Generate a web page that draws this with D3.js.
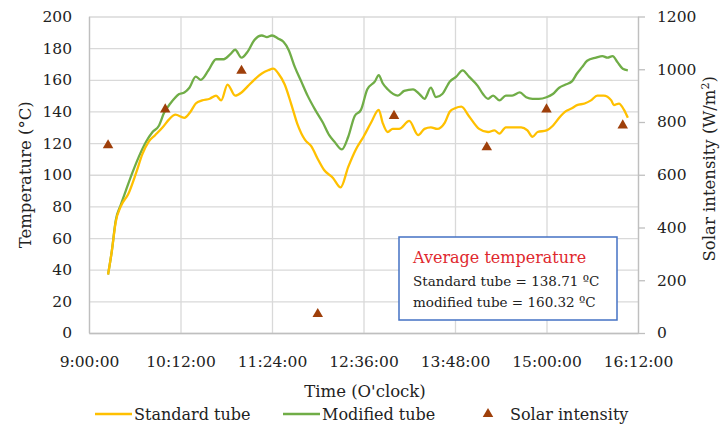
<!DOCTYPE html>
<html lang="en">
<head>
  <meta charset="UTF-8" />
  <title>Temperature and solar intensity</title>
  <script src="https://d3js.org/d3.v7.min.js"></script>
  <style>
    body { margin: 0; background: #fff; }
    text { font-family: 'DejaVu Serif', serif; fill: #222; }
  </style>
</head>
<body>
  <div id="chart"></div>
  <script>
    // data
    const xTickLabels = ["9:00:00", "10:12:00", "11:24:00", "12:36:00", "13:48:00", "15:00:00", "16:12:00"];
    const tempTicks = [0, 20, 40, 60, 80, 100, 120, 140, 160, 180, 200];
    const solarTicks = [0, 200, 400, 600, 800, 1000, 1200];

    const standardTimes = ["9:15", "9:18", "9:21", "9:25", "9:31", "9:37", "9:42", "9:47", "9:52", "9:58",
      "10:03", "10:08", "10:15", "10:20", "10:24", "10:29", "10:35", "10:40", "10:44", "10:49", "10:55",
      "11:00", "11:05", "11:10", "11:16", "11:21", "11:25", "11:29", "11:34", "11:39", "11:44", "11:50", "11:55",
      "12:00", "12:05", "12:12", "12:18", "12:24", "12:30", "12:36", "12:42", "12:48", "12:51", "12:55", "12:59",
      "13:04", "13:12", "13:19", "13:24", "13:29", "13:34", "13:40", "13:44", "13:48", "13:53", "13:59",
      "14:07", "14:14", "14:19", "14:23", "14:28", "14:33", "14:40", "14:45", "14:49", "14:53",
      "15:00", "15:05", "15:10", "15:15", "15:20", "15:24", "15:30", "15:35", "15:40", "15:45", "15:51", "15:53", "15:57",
      "16:01", "16:04"];
    const standardTemps = [37, 52, 70, 80, 88, 101, 113, 121, 125, 130,
      135, 138, 136, 140, 145, 147, 148, 150, 147, 157, 150,
      152, 156, 160, 164, 166, 167, 164, 157, 145, 132, 122, 118,
      110, 103, 98, 92, 105, 116, 124, 133, 141, 133, 127, 129,
      129, 134, 125, 129, 130, 129, 133, 140, 142, 143, 137,
      129, 127, 128, 126, 130, 130, 130, 128, 124, 127,
      128, 131, 136, 140, 142, 144, 145, 147, 150, 150, 147, 144, 145,
      141, 136];

    const modifiedTimes = ["9:15", "9:18", "9:21", "9:25", "9:29", "9:34", "9:39", "9:45", "9:50", "9:55", "9:59",
      "10:04", "10:11", "10:15", "10:19", "10:24", "10:28", "10:34", "10:40", "10:46", "10:51", "10:55",
      "11:00", "11:05", "11:10", "11:16", "11:20", "11:24", "11:29", "11:33", "11:37", "11:42", "11:47", "11:52", "11:58",
      "12:04", "12:09", "12:13", "12:19", "12:24", "12:29", "12:34", "12:39", "12:45", "12:48", "12:51", "12:55",
      "13:03", "13:08", "13:15", "13:20", "13:24", "13:29", "13:33", "13:38", "13:44", "13:49", "13:54", "13:59",
      "14:06", "14:10", "14:14", "14:18", "14:23", "14:28", "14:33", "14:39", "14:44", "14:49", "14:54",
      "15:00", "15:05", "15:10", "15:15", "15:20", "15:24", "15:28", "15:32", "15:39", "15:44", "15:48", "15:52", "15:56",
      "16:00", "16:04"];
    const modifiedTemps = [37, 52, 71, 81, 90, 101, 111, 121, 127, 131, 139,
      145, 151, 152, 155, 162, 160, 166, 173, 173, 176, 179,
      174, 178, 185, 188, 187, 188, 186, 184, 179, 168, 159, 150, 141,
      133, 125, 121, 116, 124, 137, 141, 154, 159, 163, 158, 154,
      150, 153, 154, 151, 148, 155, 149, 151, 159, 162, 166, 162,
      156, 151, 148, 150, 147, 150, 150, 152, 149, 148, 148,
      149, 151, 155, 157, 159, 164, 168, 172, 174, 175, 174, 175, 171,
      167, 166];

    const solarTimes = ["9:15", "10:00", "11:00", "12:00", "13:00", "14:13", "15:00", "16:00"];
    const solarValues = [712, 848, 994, 72, 823, 704, 848, 787];

    const parseTime = d3.timeParse("%H:%M");
    const parseTick = d3.timeParse("%H:%M:%S");

    const W = 722, H = 427;
    const margin = { top: 16.5, right: 84, bottom: 94, left: 89 };
    const width = W - margin.left - margin.right;
    const height = H - margin.top - margin.bottom;

    const svg = d3.select("#chart").append("svg")
      .attr("width", W)
      .attr("height", H);

    const g = svg.append("g")
      .attr("transform", `translate(${margin.left},${margin.top})`);

    const x = d3.scaleTime()
      .domain([parseTick("9:00:00"), parseTick("16:12:00")])
      .range([0, width]);
    const y = d3.scaleLinear().domain([0, 200]).range([height, 0]);
    const y2 = d3.scaleLinear().domain([0, 1200]).range([height, 0]);

    const xTicks = xTickLabels.map(parseTick);
    const gridColor = "#d9d9d9";

    // gridlines
    g.append("g")
      .call(d3.axisLeft(y).tickValues(tempTicks).tickSize(-width).tickFormat(""))
      .call(s => s.select(".domain").remove())
      .selectAll("line").attr("stroke", gridColor).attr("stroke-width", 1.3);

    g.append("g")
      .attr("transform", `translate(0,${height})`)
      .call(d3.axisBottom(x).tickValues(xTicks).tickSize(-height).tickFormat(""))
      .call(s => s.select(".domain").remove())
      .selectAll("line").attr("stroke", gridColor).attr("stroke-width", 1.3);

    // left axis
    const yAxis = g.append("g")
      .call(d3.axisLeft(y).tickValues(tempTicks).tickSize(0).tickPadding(17));
    yAxis.select(".domain").attr("stroke", "#bfbfbf").attr("stroke-width", 1.3);
    yAxis.selectAll("text").style("font-size", "15.5px").attr("fill", "#222");

    // right axis
    const y2Axis = g.append("g")
      .attr("transform", `translate(${width},0)`)
      .call(d3.axisRight(y2).tickValues(solarTicks).tickFormat(d3.format("d"))
        .tickSize(7).tickPadding(12).tickSizeOuter(0));
    y2Axis.select(".domain").attr("stroke", "#bfbfbf").attr("stroke-width", 1.3);
    y2Axis.selectAll("line").attr("stroke", "#bfbfbf").attr("stroke-width", 1.3);
    y2Axis.selectAll("text").style("font-size", "15.5px").attr("fill", "#222");

    // bottom axis
    const xAxis = g.append("g")
      .attr("transform", `translate(0,${height})`)
      .call(d3.axisBottom(x).tickValues(xTicks).tickSize(0).tickPadding(23)
        .tickFormat(d3.timeFormat("%-H:%M:%S")));
    xAxis.select(".domain").attr("stroke", "#bfbfbf").attr("stroke-width", 1.3);
    xAxis.selectAll("text").style("font-size", "15.5px").attr("fill", "#222");

    // lines
    const line = d3.line()
      .x(d => x(d.t))
      .y(d => y(d.v))
      .curve(d3.curveMonotoneX);

    const standard = standardTimes.map((t, i) => ({ t: parseTime(t), v: standardTemps[i] }));
    const modified = modifiedTimes.map((t, i) => ({ t: parseTime(t), v: modifiedTemps[i] }));
    const solar = solarTimes.map((t, i) => ({ t: parseTime(t), v: solarValues[i] }));

    g.append("path")
      .datum(modified)
      .attr("fill", "none")
      .attr("stroke", "#70AD47")
      .attr("stroke-width", 2.3)
      .attr("d", line);

    g.append("path")
      .datum(standard)
      .attr("fill", "none")
      .attr("stroke", "#FFC000")
      .attr("stroke-width", 2.3)
      .attr("d", line);

    const tri = d3.symbol().type(d3.symbolTriangle).size(48);
    const triColor = "#9E3F0A";

    g.selectAll(".solar")
      .data(solar)
      .join("path")
      .attr("class", "solar")
      .attr("transform", d => `translate(${x(d.t)},${y2(d.v)})`)
      .attr("fill", triColor)
      .attr("d", tri);

    // annotation box
    const box = svg.append("g").attr("transform", "translate(399,237)");
    box.append("rect")
      .attr("width", 218)
      .attr("height", 83)
      .attr("fill", "#fff")
      .attr("stroke", "#4472C4")
      .attr("stroke-width", 1.5);
    box.append("text")
      .attr("x", 14).attr("y", 26)
      .style("font-size", "16px")
      .style("fill", "#E0282E")
      .text("Average temperature");
    box.append("text")
      .attr("x", 14).attr("y", 49)
      .style("font-size", "13.5px")
      .text("Standard tube = 138.71 ºC");
    box.append("text")
      .attr("x", 14).attr("y", 70)
      .style("font-size", "13.5px")
      .text("modified tube = 160.32 ºC");

    // axis titles
    svg.append("text")
      .attr("text-anchor", "middle")
      .attr("transform", `translate(31,${margin.top + height / 2}) rotate(-90)`)
      .style("font-size", "16.5px")
      .text("Temperature (°C)");

    const rt = svg.append("text")
      .attr("text-anchor", "middle")
      .attr("transform", `translate(715,${margin.top + height / 2 - 6}) rotate(-90)`)
      .style("font-size", "16.5px");
    rt.append("tspan").text("Solar intensity (W/m");
    rt.append("tspan").attr("dy", -6).style("font-size", "11px").text("2");
    rt.append("tspan").attr("dy", 6).text(")");

    svg.append("text")
      .attr("text-anchor", "middle")
      .attr("x", 365).attr("y", 397)
      .style("font-size", "16.5px")
      .text("Time (O'clock)");

    // legend
    const legend = svg.append("g").attr("transform", "translate(0,414)");
    const items = [
      { label: "Standard tube", color: "#FFC000", type: "line", x: 95 },
      { label: "Modified tube", color: "#70AD47", type: "line", x: 283 },
      { label: "Solar intensity", color: triColor, type: "tri", x: 478 }
    ];
    items.forEach(it => {
      if (it.type === "line") {
        legend.append("line")
          .attr("x1", it.x).attr("x2", it.x + 37)
          .attr("stroke", it.color).attr("stroke-width", 2.3);
        legend.append("text")
          .attr("x", it.x + 39).attr("dy", "0.35em")
          .style("font-size", "16px")
          .text(it.label);
      } else {
        legend.append("path")
          .attr("transform", `translate(${it.x + 10},0)`)
          .attr("fill", it.color)
          .attr("d", tri);
        legend.append("text")
          .attr("x", it.x + 32).attr("dy", "0.35em")
          .style("font-size", "16px")
          .text(it.label);
      }
    });
  </script>
</body>
</html>
